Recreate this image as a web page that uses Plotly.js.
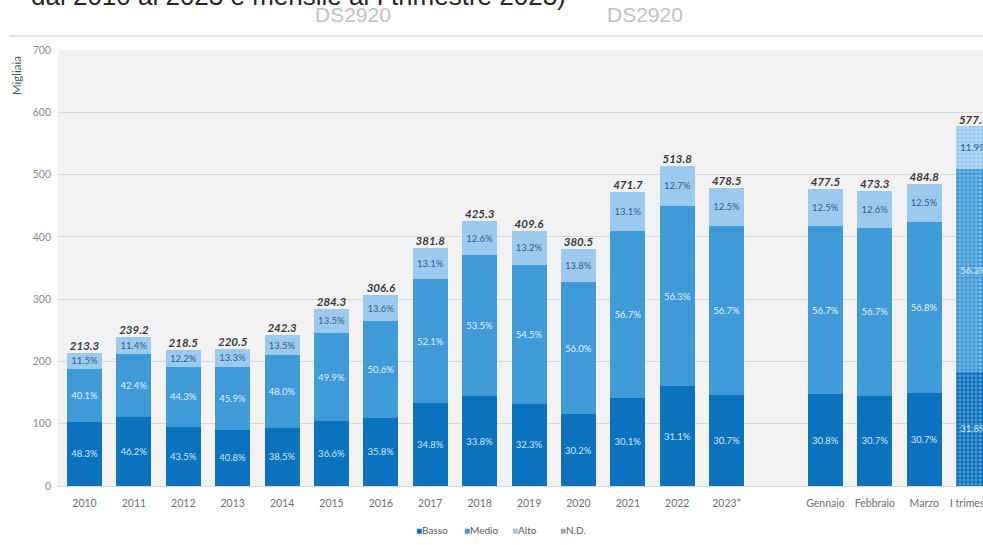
<!DOCTYPE html>
<html>
<head>
<meta charset="utf-8">
<script src="https://cdn.plot.ly/plotly-3.0.1.min.js"></script>
<style>
  html, body { margin: 0; padding: 0; background: #ffffff; }
  #chart { width: 983px; height: 545px; }
</style>
</head>
<body>
<div id="chart"></div>
<script>
// Annual periods, then the months of the first quarter and the quarter itself
const years = ['2010', '2011', '2012', '2013', '2014', '2015', '2016', '2017',
               '2018', '2019', '2020', '2021', '2022', '2023*'];
const months = ['Gennaio', 'Febbraio', 'Marzo', 'I trimestre'];
const gapLabel = ' ';

// Totals (migliaia)
const totals = [213.3, 239.2, 218.5, 220.5, 242.3, 284.3, 306.6, 381.8,
                425.3, 409.6, 380.5, 471.7, 513.8, 478.5,
                477.5, 473.3, 484.8, 577.3];

// Shares by level (%)
const bassoPct = [48.3, 46.2, 43.5, 40.8, 38.5, 36.6, 35.8, 34.8,
                  33.8, 32.3, 30.2, 30.1, 31.1, 30.7,
                  30.8, 30.7, 30.7, 31.8];
const medioPct = [40.1, 42.4, 44.3, 45.9, 48.0, 49.9, 50.6, 52.1,
                  53.5, 54.5, 56.0, 56.7, 56.3, 56.7,
                  56.7, 56.7, 56.8, 56.3];
const altoPct  = [11.5, 11.4, 12.2, 13.3, 13.5, 13.5, 13.6, 13.1,
                  12.6, 13.2, 13.8, 13.1, 12.7, 12.5,
                  12.5, 12.6, 12.5, 11.9];
const ndPct    = [0, 0, 0, 0, 0, 0, 0, 0,
                  0, 0, 0, 0, 0, 0,
                  0, 0, 0, 0];

const seriesNames = ['Basso', 'Medio', 'Alto', 'N.D.'];
const seriesColors = ['#0b72bd', '#3f9ad8', '#9ccaee', '#a6a6a6'];

const labels = years.concat(months);
const categoryOrder = years.concat([gapLabel], months);

// The quarterly bar is drawn with a dotted fill
const patternShapes = labels.map(l => (l === 'I trimestre' ? '.' : ''));

const FONT = 'Lato, "Open Sans", sans-serif';

function segment(idx, pct, textColor) {
  return {
    type: 'bar',
    name: seriesNames[idx],
    legendgroup: seriesNames[idx],
    showlegend: false,
    x: labels,
    y: totals.map((t, i) => t * pct[i] / 100),
    text: pct.map(p => (p > 0 ? p.toFixed(1) + '%' : '')),
    textposition: 'inside',
    insidetextanchor: 'middle',
    textangle: 0,
    constraintext: 'none',
    insidetextfont: { family: FONT, size: 9.5, color: textColor },
    marker: {
      color: seriesColors[idx],
      line: { width: 0 },
      pattern: {
        shape: patternShapes, fillmode: 'overlay',
        fgcolor: 'rgba(255,255,255,0.6)', size: 4, solidity: 0.4
      }
    },
    cliponaxis: true,
    hoverinfo: 'x+y+name'
  };
}

// Compact legend entries: a coloured square glyph before each name
function legendEntry(name, color) {
  return {
    type: 'scatter',
    mode: 'none',
    x: [null],
    y: [null],
    name: color ? '<span style="color:' + color + ';font-size:10px">\u25A0</span>' + name : name,
    legendgroup: name || 'spacer',
    showlegend: true,
    hoverinfo: 'skip'
  };
}

const traces = [
  segment(0, bassoPct, '#d3e6f6'),
  segment(1, medioPct, '#e3f0fb'),
  segment(2, altoPct, '#2e5e8e'),
  segment(3, ndPct, '#ffffff'),
  {
    type: 'scatter',
    mode: 'text',
    x: labels,
    y: totals,
    text: totals.map(t => '<b><i>' + t.toFixed(1) + '</i></b>'),
    textposition: 'top center',
    textfont: { family: FONT, size: 11.5, color: '#3a3a3a' },
    cliponaxis: true,
    showlegend: false,
    hoverinfo: 'skip'
  }
].concat(seriesNames.map((n, i) => legendEntry(n, seriesColors[i])))
 .concat([legendEntry('', null)]);   // trailing blank entry keeps room for the last label

// Pixel helpers for items placed around the plot area
const plotTop = 50, plotBottom = 486, plotLeft = 58, plotRight = 983;
const py = p => (plotBottom - p) / (plotBottom - plotTop);
const px = p => (p - plotLeft) / (plotRight - plotLeft);

const layout = {
  width: 983,
  height: 545,
  margin: { l: plotLeft, r: 983 - plotRight, t: plotTop, b: 545 - plotBottom, pad: 0 },
  paper_bgcolor: '#ffffff',
  plot_bgcolor: '#f2f2f2',
  barmode: 'stack',
  bargap: 0.29,
  font: { family: FONT, color: '#595959' },
  xaxis: {
    type: 'category',
    categoryorder: 'array',
    categoryarray: categoryOrder,
    range: [-0.537, 18.19],
    showgrid: false,
    zeroline: false,
    showline: false,
    ticks: '',
    ticklabelstandoff: 9,
    tickfont: { family: FONT, size: 10.5, color: '#6e6e6e' },
    fixedrange: true
  },
  yaxis: {
    range: [0, 700],
    dtick: 100,
    showgrid: true,
    gridcolor: '#d9d9d9',
    gridwidth: 1,
    zeroline: true,
    zerolinecolor: '#d9d9d9',
    zerolinewidth: 1,
    showline: false,
    ticks: '',
    ticklabelstandoff: 6,
    tickfont: { family: FONT, size: 10.5, color: '#8a8a8a' },
    fixedrange: true
  },
  legend: {
    orientation: 'h',
    x: px(376),
    xanchor: 'left',
    y: py(530),
    yanchor: 'middle',
    traceorder: 'normal',
    itemwidth: 30,
    entrywidthmode: 'pixels',
    entrywidth: 3,
    font: { family: FONT, size: 10, color: '#595959' },
    bgcolor: 'rgba(0,0,0,0)'
  },
  shapes: [
    {
      type: 'line', xref: 'paper', yref: 'paper',
      x0: px(9), x1: px(983), y0: py(36), y1: py(36),
      line: { color: '#e4e4e4', width: 2 }
    }
  ],
  annotations: [
    {
      text: 'Migliaia', textangle: -90,
      xref: 'paper', yref: 'paper', x: px(17), y: py(76),
      xanchor: 'center', yanchor: 'middle', showarrow: false,
      font: { family: FONT, size: 11.5, color: '#595959' }
    },
    {
      text: 'dal 2010 al 2023 e mensile al I trimestre 2023)',
      xref: 'paper', yref: 'paper', x: px(29), y: py(13),
      xanchor: 'left', yanchor: 'bottom', showarrow: false,
      font: { family: '"Liberation Sans", Arial, sans-serif', size: 26, color: '#262626' }
    },
    {
      text: 'DS2920',
      xref: 'paper', yref: 'paper', x: px(353), y: py(15),
      xanchor: 'center', yanchor: 'middle', showarrow: false,
      font: { family: '"Liberation Sans", Arial, sans-serif', size: 21, color: '#c2c2c2' }
    },
    {
      text: 'DS2920',
      xref: 'paper', yref: 'paper', x: px(645), y: py(15),
      xanchor: 'center', yanchor: 'middle', showarrow: false,
      font: { family: '"Liberation Sans", Arial, sans-serif', size: 21, color: '#c2c2c2' }
    }
  ]
};

Plotly.newPlot('chart', traces, layout, { displayModeBar: false, staticPlot: true });
</script>
</body>
</html>
